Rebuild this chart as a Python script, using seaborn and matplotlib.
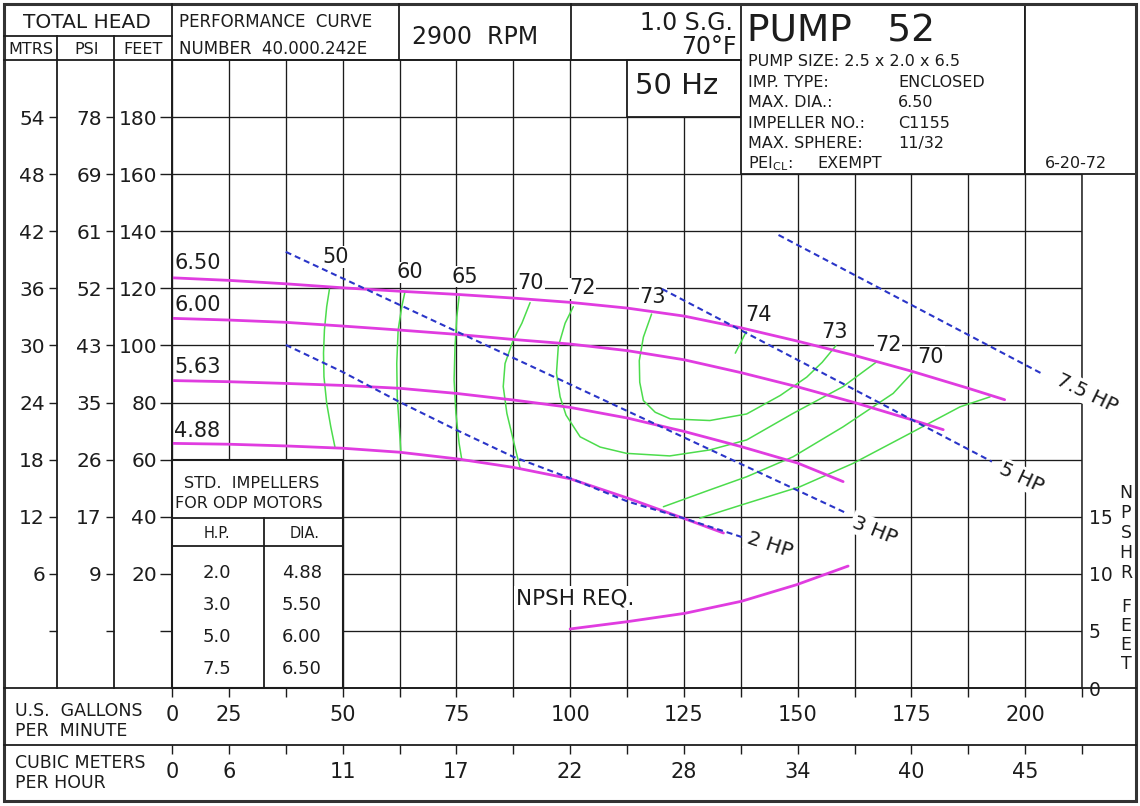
import pandas as pd
import seaborn as sns
import matplotlib.pyplot as plt
from matplotlib.patches import Rectangle

# ---------------- axis scales ----------------
gpm_ticks = [12.5, 25, 37.5, 50, 62.5, 75, 87.5, 100, 112.5, 125, 137.5, 150, 162.5, 175, 187.5, 200, 212.5]
gpm_labels = ["0", "25", "", "50", "", "75", "", "100", "", "125", "", "150", "", "175", "", "200", ""]
cmh_labels = ["0", "6", "", "11", "", "17", "", "22", "", "28", "", "34", "", "40", "", "45", ""]
feet_ticks = [0, 20, 40, 60, 80, 100, 120, 140, 160, 180]
feet_labels = ["", "20", "40", "60", "80", "100", "120", "140", "160", "180"]
psi_labels = ["", "9", "17", "26", "35", "43", "52", "61", "69", "78"]
mtrs_labels = ["", "6", "12", "18", "24", "30", "36", "42", "48", "54"]
npsh_ticks = [0, 5, 10, 15]
npsh_labels = ["0", "5", "10", "15"]

# ---------------- impeller curves (gpm, feet) ----------------
dia_650_gpm = [12.5, 25, 37.5, 50, 62.5, 75, 87.5, 100, 112.5, 125, 137.5, 150, 162.5, 175, 187.5, 195.5]
dia_650_head = [123.7, 122.8, 121.6, 120.2, 119.0, 117.9, 116.6, 115.1, 113.1, 110.3, 106.2, 101.5, 96.5, 91.0, 85.0, 81.0]
dia_600_gpm = [12.5, 25, 37.5, 50, 62.5, 75, 87.5, 100, 112.5, 125, 137.5, 150, 162.5, 175, 182]
dia_600_head = [109.5, 108.9, 108.1, 106.8, 105.4, 103.9, 102.1, 100.5, 98.2, 95.0, 90.5, 85.5, 80.0, 74.0, 70.5]
dia_563_gpm = [12.5, 25, 37.5, 50, 62.5, 75, 87.5, 100, 112.5, 125, 137.5, 150, 160]
dia_563_head = [87.7, 87.3, 86.7, 86.0, 85.0, 83.2, 80.9, 78.3, 74.6, 69.9, 64.6, 58.8, 52.3]
dia_488_gpm = [12.5, 25, 37.5, 50, 62.5, 75, 87.5, 100, 112.5, 125, 133.7]
dia_488_head = [65.7, 65.4, 64.8, 64.0, 62.6, 60.3, 57.3, 53.3, 46.6, 39.4, 34.3]
dia_names = ["6.50", "6.00", "5.63", "4.88"]
dia_label_gpm = [13, 13, 13, 13]
dia_label_head = [128.8, 114.2, 92.6, 70.1]

# ---------------- efficiency curves ----------------
eff_50_gpm = [47.1, 46.5, 46.0, 45.8, 45.9, 46.5, 47.4, 48.3]
eff_50_head = [119.7, 113.6, 105.4, 97.3, 89.0, 79.7, 71.5, 64.5]
eff_60_gpm = [63.7, 63.0, 62.2, 61.9, 62.0, 62.4, 62.8]
eff_60_head = [118.8, 113.6, 105.4, 93.7, 82.0, 72.7, 62.8]
eff_65_gpm = [75.6, 75.1, 74.7, 74.5, 74.9, 75.6, 76.2]
eff_65_head = [117.1, 110.1, 99.6, 87.9, 76.2, 65.7, 59.9]
eff_70_gpm = [91.2, 89.4, 87.5, 85.7, 85.3, 86.1, 87.5, 89.0]
eff_70_head = [115.0, 107.8, 101.9, 93.7, 85.6, 76.2, 66.9, 57.0]
eff_72_gpm = [100.7, 98.9, 97.4, 97.0, 97.8, 99.1, 102.2, 106.6, 112.4, 121.9, 130.7, 138.8, 149.0, 160.0, 167.4]
eff_72_head = [113.6, 107.8, 99.6, 90.3, 82.0, 75.6, 68.0, 64.4, 62.2, 61.3, 63.4, 66.9, 76.2, 85.6, 94.3]
eff_73_gpm = [117.9, 116.1, 115.2, 115.3, 116.1, 118.7, 122.0, 130.7, 138.8, 146.2, 152.0, 155.4, 158.4]
eff_73_head = [111.0, 102.9, 94.7, 87.1, 80.7, 76.6, 74.3, 73.7, 76.0, 82.5, 88.9, 94.1, 99.9]
eff_74_gpm = [138.7, 136.3]
eff_74_head = [104.8, 97.3]
eff_70r_gpm = [120.5, 130.7, 138.8, 149.0, 160.0, 171.0, 175.4]
eff_70r_head = [43.5, 49.4, 54.0, 61.0, 71.5, 83.2, 90.8]
eff_65r_gpm = [128.5, 138.8, 150.5, 162.2, 174.7, 185.7, 192.3]
eff_65r_head = [39.5, 44.7, 50.5, 58.7, 69.2, 78.5, 82.0]
eff_labels = ["50", "60", "65", "70", "72", "73", "74", "73", "72", "70"]
eff_label_gpm = [48.5, 64.8, 76.9, 91.4, 102.7, 118.2, 141.4, 158.2, 169.9, 179.3]
eff_label_head = [131.1, 125.6, 124.1, 121.8, 120.0, 116.8, 110.7, 104.8, 100.2, 96.1]

# ---------------- horsepower lines ----------------
hp2_gpm = [37.5, 49.9, 62.4, 75.0, 87.5, 100.0, 112.7, 125.1, 137.7]
hp2_head = [100.2, 90.8, 80.3, 70.4, 61.0, 53.5, 45.3, 39.4, 32.9]
hp3_gpm = [37.5, 160.8]
hp3_head = [132.8, 41.2]
hp5_gpm = [120.2, 192.7]
hp5_head = [119.8, 59.3]
hp75_gpm = [145.8, 203.6]
hp75_head = [138.7, 90.2]
hp_labels = ["2 HP", "3 HP", "5 HP", "7.5 HP"]
hp_label_gpm = [143.9, 167.0, 199.3, 213.6]
hp_label_head = [30.1, 35.3, 53.6, 83.3]
hp_label_rot = [-18, -22, -25, -26]

# ---------------- NPSH required ----------------
npsh_gpm = [100.0, 112.4, 125.2, 137.7, 149.8, 161.1]
npsh_ft = [5.17, 5.8, 6.54, 7.6, 9.05, 10.68]

# ---------------- impeller table ----------------
std_hp = ["2.0", "3.0", "5.0", "7.5"]
std_dia = ["4.88", "5.50", "6.00", "6.50"]

W, H = 1140, 806
INK = '#1c1c1c'
MAGENTA = '#e03ce0'
GREEN = '#4cdc4c'
BLUE = '#2a35c8'

sns.set_style('white')
plt.rcParams['font.family'] = ['DejaVu Sans']

fig = plt.figure(figsize=(W / 100, H / 100), dpi=100)
fig.patch.set_facecolor('white')

# plot area: x 172..1082 px, y 60..688 px
ax = fig.add_axes([172 / W, 1 - 688 / H, 910 / W, 628 / H])

imp = pd.concat([
    pd.DataFrame({'gpm': dia_650_gpm, 'head': dia_650_head, 'dia': '6.50'}),
    pd.DataFrame({'gpm': dia_600_gpm, 'head': dia_600_head, 'dia': '6.00'}),
    pd.DataFrame({'gpm': dia_563_gpm, 'head': dia_563_head, 'dia': '5.63'}),
    pd.DataFrame({'gpm': dia_488_gpm, 'head': dia_488_head, 'dia': '4.88'}),
])
eff = pd.concat([
    pd.DataFrame({'gpm': g, 'head': h, 'curve': n}) for n, g, h in [
        ('50', eff_50_gpm, eff_50_head), ('60', eff_60_gpm, eff_60_head),
        ('65', eff_65_gpm, eff_65_head), ('70', eff_70_gpm, eff_70_head),
        ('72', eff_72_gpm, eff_72_head), ('73', eff_73_gpm, eff_73_head),
        ('74', eff_74_gpm, eff_74_head), ('70r', eff_70r_gpm, eff_70r_head),
        ('65r', eff_65r_gpm, eff_65r_head)]
])
hp = pd.concat([
    pd.DataFrame({'gpm': g, 'head': h, 'hp': n}) for n, g, h in [
        ('2', hp2_gpm, hp2_head), ('3', hp3_gpm, hp3_head),
        ('5', hp5_gpm, hp5_head), ('7.5', hp75_gpm, hp75_head)]
])

sns.lineplot(data=eff, x='gpm', y='head', units='curve', estimator=None, sort=False,
             color=GREEN, lw=1.1, ax=ax, zorder=4)
sns.lineplot(data=imp, x='gpm', y='head', units='dia', estimator=None, sort=False,
             color=MAGENTA, lw=2.0, ax=ax, zorder=5)
sns.lineplot(data=hp, x='gpm', y='head', units='hp', estimator=None, sort=False,
             color=BLUE, lw=1.5, linestyle=(0, (2.9, 1.9)), ax=ax, zorder=6)

ax.set_xlim(12.5, 212.5)
ax.set_ylim(-20, 200)
ax.set_xlabel('')
ax.set_ylabel('')
ax.set_xticks(gpm_ticks, labels=gpm_labels)
ax.set_yticks(feet_ticks, labels=feet_labels)
ax.grid(True, color=INK, lw=0.95)
ax.set_axisbelow(True)
ax.tick_params(axis='x', bottom=True, top=False, direction='out', length=6.5, width=1,
               color=INK, pad=6, labelsize=15, labelcolor=INK)
ax.tick_params(axis='y', left=True, right=False, direction='out', length=8.6, width=1,
               color=INK, pad=2.2, labelsize=14.5, labelcolor=INK)
for s in ax.spines.values():
    s.set_color(INK)
    s.set_linewidth(1.1)

# labels on the curves
for t, x, y in zip(dia_names, dia_label_gpm, dia_label_head):
    ax.text(x, y, t, ha='left', va='center', fontsize=15, color=INK, zorder=3)
for t, x, y in zip(eff_labels, eff_label_gpm, eff_label_head):
    ax.text(x, y, t, ha='center', va='center', fontsize=15, color=INK, zorder=3,
            bbox=dict(facecolor='white', edgecolor='none', pad=0.6))
for t, x, y, r in zip(hp_labels, hp_label_gpm, hp_label_head, hp_label_rot):
    ax.text(x, y, t, ha='center', va='center', rotation=r, rotation_mode='anchor',
            fontsize=14.5, color=INK, zorder=3,
            bbox=dict(facecolor='white', edgecolor='none', pad=1.5))
ax.text(101.1, 11.5, "NPSH REQ.", ha='center', va='center', fontsize=15.5, color=INK,
        zorder=3, bbox=dict(facecolor='white', edgecolor='none', pad=1.5))

# PSI and meter columns
for loc_px, labels in [(114, psi_labels), (57, mtrs_labels)]:
    sec = ax.secondary_yaxis((loc_px - 172) / 910)
    sec.set_ticks(feet_ticks, labels=labels)
    sec.tick_params(left=True, direction='out', length=5.8, width=1, color=INK,
                    pad=2.9, labelsize=14.5, labelcolor=INK)
    for s in sec.spines.values():
        s.set_visible(False)

# cubic meters per hour row
sec_x = ax.secondary_xaxis(-57 / 628)
sec_x.set_ticks(gpm_ticks, labels=cmh_labels)
sec_x.tick_params(bottom=True, direction='out', length=6.5, width=1, color=INK,
                  pad=5.5, labelsize=15, labelcolor=INK)
for s in sec_x.spines.values():
    s.set_visible(False)

# NPSH required on its own scale
ax_n = ax.twinx()
sns.lineplot(x=npsh_gpm, y=npsh_ft, estimator=None, sort=False, color=MAGENTA, lw=2.0, ax=ax_n)
ax_n.set_ylim(0, 55)
ax_n.set_yticks(npsh_ticks, labels=npsh_labels)
ax_n.tick_params(axis='y', right=True, length=0, pad=5, labelsize=13.5, labelcolor=INK)
ax_n.set_ylabel('')
ax_n.grid(False)
for s in ax_n.spines.values():
    s.set_visible(False)
ax.set_xlim(12.5, 212.5)

# ---------------- form overlay in pixel coordinates ----------------
ov = fig.add_axes([0, 0, 1, 1], zorder=10)
ov.set_xlim(0, W)
ov.set_ylim(H, 0)
ov.axis('off')


def seg(x0, y0, x1, y1, lw=1.3):
    ov.plot([x0, x1], [y0, y1], color=INK, lw=lw, solid_capstyle='projecting')


def box(x, y, w, h, lw=1.3):
    ov.add_patch(Rectangle((x, y), w, h, facecolor='white', edgecolor=INK, lw=lw))


seg(4, 36, 172, 36)
seg(4, 60, 741, 60)
seg(57, 36, 57, 688)
seg(114, 36, 114, 688)
seg(172, 4, 172, 688)
seg(399, 4, 399, 60)
seg(571, 4, 571, 60)
seg(4, 688, 1136, 688)
seg(4, 745, 1136, 745)
box(627, 60, 114, 57)
box(741, 4, 284, 170)
box(1025, 4, 111, 170)
box(172, 460, 171, 228, lw=1.5)
seg(172, 518, 343, 518)
seg(172, 546, 343, 546)
seg(264, 518, 264, 688)
ov.add_patch(Rectangle((4, 4), 1132, 797, fill=False, edgecolor='#333333', lw=2.2))

txt = dict(color=INK, va='center')
ov.text(87, 22, "TOTAL HEAD", ha='center', fontsize=14.5, **txt)
ov.text(31, 49, "MTRS", ha='center', fontsize=11.5, **txt)
ov.text(87, 49, "PSI", ha='center', fontsize=11.5, **txt)
ov.text(143, 49, "FEET", ha='center', fontsize=11.5, **txt)
ov.text(179, 22, "PERFORMANCE  CURVE", ha='left', fontsize=12, **txt)
ov.text(179, 49, "NUMBER  40.000.242E", ha='left', fontsize=12, **txt)
ov.text(412, 37, "2900  RPM", ha='left', fontsize=17, **txt)
ov.text(733, 23, "1.0 S.G.", ha='right', fontsize=17, **txt)
ov.text(737, 47, "70°F", ha='right', fontsize=17, **txt)
ov.text(677, 86, "50 Hz", ha='center', fontsize=21, **txt)
ov.text(747, 32, "PUMP   52", ha='left', fontsize=27, **txt)

spec_keys = ["PUMP SIZE: 2.5 x 2.0 x 6.5", "IMP. TYPE:", "MAX. DIA.:", "IMPELLER NO.:",
             "MAX. SPHERE:", r"PEI$_{\mathrm{CL}}$:"]
spec_vals = ["", "ENCLOSED", "6.50", "C1155", "11/32", ""]
spec_y = [61.5, 82.5, 102.5, 123, 143.5, 163.5]
for k, v, y in zip(spec_keys, spec_vals, spec_y):
    ov.text(748, y, k, ha='left', fontsize=11.5, **txt)
    ov.text(898, y, v, ha='left', fontsize=11.5, **txt)
ov.text(817, 163.5, "EXEMPT", ha='left', fontsize=11.5, **txt)
ov.text(1076, 163.5, "6-20-72", ha='center', fontsize=11.5, **txt)

ov.text(15, 711, "U.S.  GALLONS", ha='left', fontsize=12.5, **txt)
ov.text(15, 731, "PER  MINUTE", ha='left', fontsize=12.5, **txt)
ov.text(15, 763, "CUBIC METERS", ha='left', fontsize=12.5, **txt)
ov.text(15, 783, "PER HOUR", ha='left', fontsize=12.5, **txt)

ov.text(252, 483, "STD.  IMPELLERS", ha='center', fontsize=11.5, **txt)
ov.text(249, 503, "FOR ODP MOTORS", ha='center', fontsize=11.5, **txt)
ov.text(217, 533, "H.P.", ha='center', fontsize=10.5, **txt)
ov.text(305, 533, "DIA.", ha='center', fontsize=10.5, **txt)
for h_, d_, y in zip(std_hp, std_dia, [573, 605, 637, 669]):
    ov.text(217, y, h_, ha='center', fontsize=13, **txt)
    ov.text(302, y, d_, ha='center', fontsize=13, **txt)

for ch, y in zip("NPSHR", [493, 513, 533, 553, 573]):
    ov.text(1126, y, ch, ha='center', fontsize=12.5, **txt)
for ch, y in zip("FEET", [607, 626, 645, 664]):
    ov.text(1126, y, ch, ha='center', fontsize=12.5, **txt)

fig.savefig('out.png', dpi=100, facecolor='white')
